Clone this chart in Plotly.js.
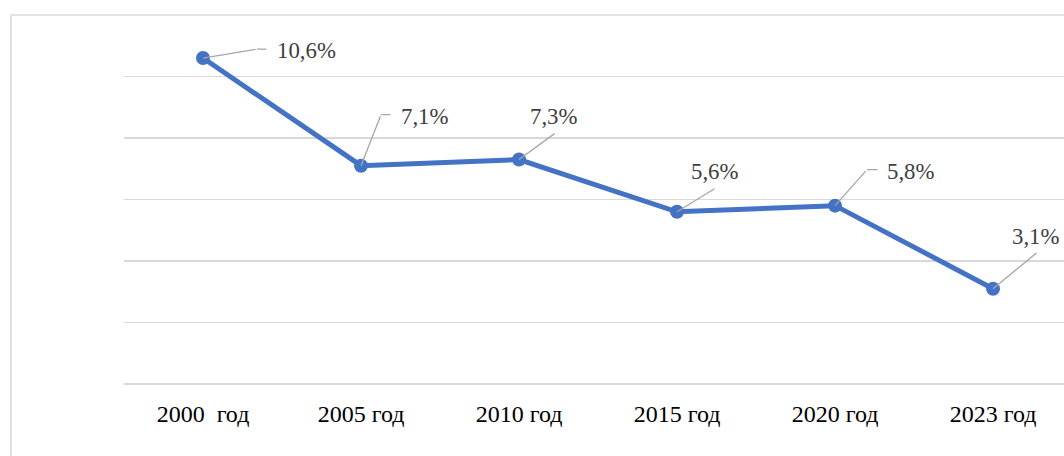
<!DOCTYPE html>
<html>
<head>
<meta charset="utf-8">
<script src="https://cdn.plot.ly/plotly-3.0.1.min.js"></script>
<style>
html,body{margin:0;padding:0;background:#fff;}
#chart{width:1064px;height:456px;}
</style>
</head>
<body>
<div id="chart"></div>
<script>
// Data
const categories = ['2000 \u00a0год', '2005 год', '2010 год', '2015 год', '2020 год', '2023 год'];
const values = [10.6, 7.1, 7.3, 5.6, 5.8, 3.1];
const valueLabels = ['10,6%', '7,1%', '7,3%', '5,6%', '5,8%', '3,1%'];

// Label placement (pixel offsets relative to each point)
const labelShift = [[103, 8], [64, 49], [35, 43], [38, 40], [76, 34], [43, 52]];
const leaderDiag = [[54, -9], [20, -51], [37, -27], [39, -24], [32, -36], [45, -37]];
const leaderFlat = [11, 11, 0, 0, 12, 0];

const lineColor = '#4472C4';
const leaderColor = '#a6a6a6';
const serif = 'Liberation Serif, Times New Roman, serif';

const annotations = [];
categories.forEach((c, i) => {
  annotations.push({
    x: c, y: values[i], xref: 'x', yref: 'y',
    text: valueLabels[i], showarrow: false,
    xshift: labelShift[i][0], yshift: labelShift[i][1],
    font: {family: serif, size: 22.8, color: '#404040'}
  });
  annotations.push({
    x: c, y: values[i], xref: 'x', yref: 'y',
    text: '', showarrow: true, arrowhead: 0, arrowwidth: 1.3, arrowcolor: leaderColor,
    ax: leaderDiag[i][0], ay: leaderDiag[i][1], standoff: 0, startstandoff: 0
  });
  if (leaderFlat[i] > 0) {
    annotations.push({
      x: c, y: values[i], xref: 'x', yref: 'y',
      text: '', showarrow: true, arrowhead: 0, arrowwidth: 1.3, arrowcolor: leaderColor,
      xshift: leaderDiag[i][0], yshift: -leaderDiag[i][1],
      ax: leaderFlat[i], ay: 0, standoff: 0, startstandoff: 0
    });
  }
});

const trace = {
  x: categories, y: values, type: 'scatter', mode: 'lines+markers',
  line: {color: lineColor, width: 5},
  marker: {color: lineColor, size: 14},
  hoverinfo: 'skip', cliponaxis: false
};

const layout = {
  width: 1064, height: 456,
  margin: {l: 124, r: 0, t: 15, b: 72},
  paper_bgcolor: '#ffffff', plot_bgcolor: '#ffffff',
  showlegend: false,
  font: {family: serif},
  xaxis: {
    type: 'category', range: [-0.5, 5.449],
    showgrid: false, zeroline: false, showline: false,
    ticks: 'outside', ticklen: 8, tickcolor: 'rgba(0,0,0,0)',
    tickfont: {family: serif, size: 24, color: '#000000'}
  },
  yaxis: {
    range: [0, 12], dtick: 2, showticklabels: false,
    gridcolor: '#d9d9d9', gridwidth: 1.6,
    zeroline: true, zerolinecolor: '#d9d9d9', zerolinewidth: 1.6,
    showline: false, fixedrange: true
  },
  shapes: [{
    type: 'rect', xref: 'paper', yref: 'paper',
    x0: -0.1202, x1: 1.2, y0: -0.3, y1: 1.0,
    line: {color: '#d9d9d9', width: 1.6}, layer: 'below'
  }],
  annotations: annotations
};

Plotly.newPlot('chart', [trace], layout, {displayModeBar: false, staticPlot: true});
</script>
</body>
</html>
